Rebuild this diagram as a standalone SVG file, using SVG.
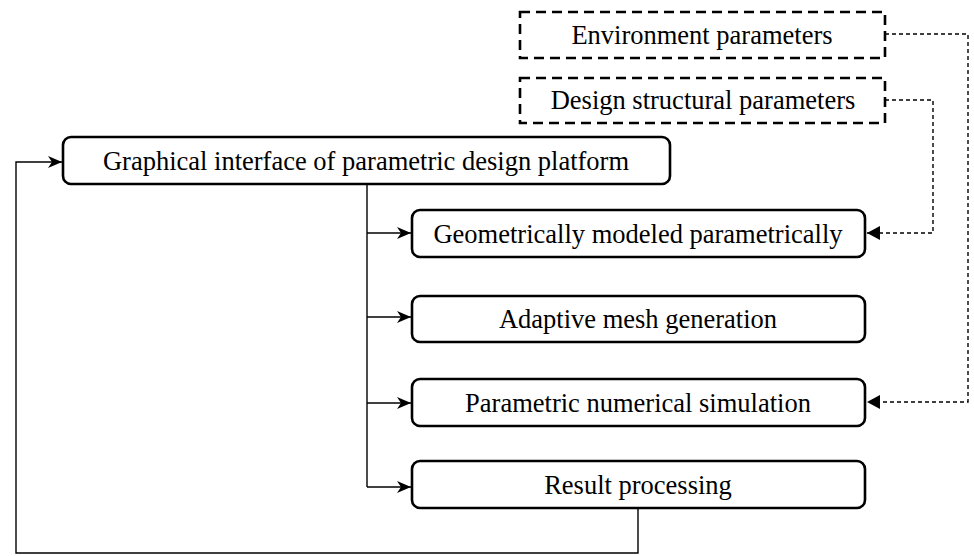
<svg xmlns="http://www.w3.org/2000/svg" width="974" height="556" viewBox="0 0 974 556">
  <style>
    .box { fill: #ffffff; stroke: #000000; stroke-width: 2.6; }
    .dbox { fill: #ffffff; stroke: #000000; stroke-width: 2.6; stroke-dasharray: 10 6; }
    .lbl { font-family: "Liberation Serif", "Times New Roman", serif; font-size: 26.5px; fill: #000000; text-anchor: middle; }
    .wire { fill: none; stroke: #000000; stroke-width: 1.4; }
    .dwire { fill: none; stroke: #000000; stroke-width: 1.4; stroke-dasharray: 4 3; }
  </style>
  <defs>
    <marker id="stealth" markerUnits="userSpaceOnUse" markerWidth="16" markerHeight="14" refX="14" refY="6" orient="auto">
      <path d="M0,0 L14,6 L0,12 L4,6 Z" fill="#000000"/>
    </marker>
    <marker id="tri" markerUnits="userSpaceOnUse" markerWidth="16" markerHeight="16" refX="13" refY="7" orient="auto">
      <path d="M0,0 L13,7 L0,14 Z" fill="#000000"/>
    </marker>
  </defs>

  <!-- connectors -->
  <g id="connectors">
    <!-- trunk from the interface box to each stage -->
    <path class="wire" d="M367,184 V487"/>
    <path class="wire" d="M367,233 H411" marker-end="url(#stealth)"/>
    <path class="wire" d="M367,317 H411" marker-end="url(#stealth)"/>
    <path class="wire" d="M367,403 H411" marker-end="url(#stealth)"/>
    <path class="wire" d="M367,487 H411" marker-end="url(#stealth)"/>
    <!-- feedback loop from result processing back to the interface -->
    <path class="wire" d="M638,508 V553 H16 V162 H62" marker-end="url(#stealth)"/>
    <!-- parameter inputs -->
    <path class="dwire" d="M885,34 H968 V402 H867" marker-end="url(#tri)"/>
    <path class="dwire" d="M885,100 H933 V233 H867" marker-end="url(#tri)"/>
  </g>

  <g id="env-params">
    <rect class="dbox" x="520" y="12" width="365" height="46"/>
    <text class="lbl" x="702" y="44">Environment parameters</text>
  </g>

  <g id="design-params">
    <rect class="dbox" x="520" y="78" width="365" height="45"/>
    <text class="lbl" x="703" y="109">Design structural parameters</text>
  </g>

  <g id="interface">
    <rect class="box" x="63" y="137" width="607" height="47" rx="8"/>
    <text class="lbl" x="366" y="170">Graphical interface of parametric design platform</text>
  </g>

  <g id="geometry">
    <rect class="box" x="412" y="210" width="453" height="47" rx="8"/>
    <text class="lbl" x="638" y="243">Geometrically modeled parametrically</text>
  </g>

  <g id="mesh">
    <rect class="box" x="412" y="296" width="453" height="46" rx="8"/>
    <text class="lbl" x="638" y="328">Adaptive mesh generation</text>
  </g>

  <g id="simulation">
    <rect class="box" x="412" y="379" width="453" height="47" rx="8"/>
    <text class="lbl" x="638" y="412">Parametric numerical simulation</text>
  </g>

  <g id="results">
    <rect class="box" x="412" y="461" width="453" height="47" rx="8"/>
    <text class="lbl" x="638" y="494">Result processing</text>
  </g>
</svg>
